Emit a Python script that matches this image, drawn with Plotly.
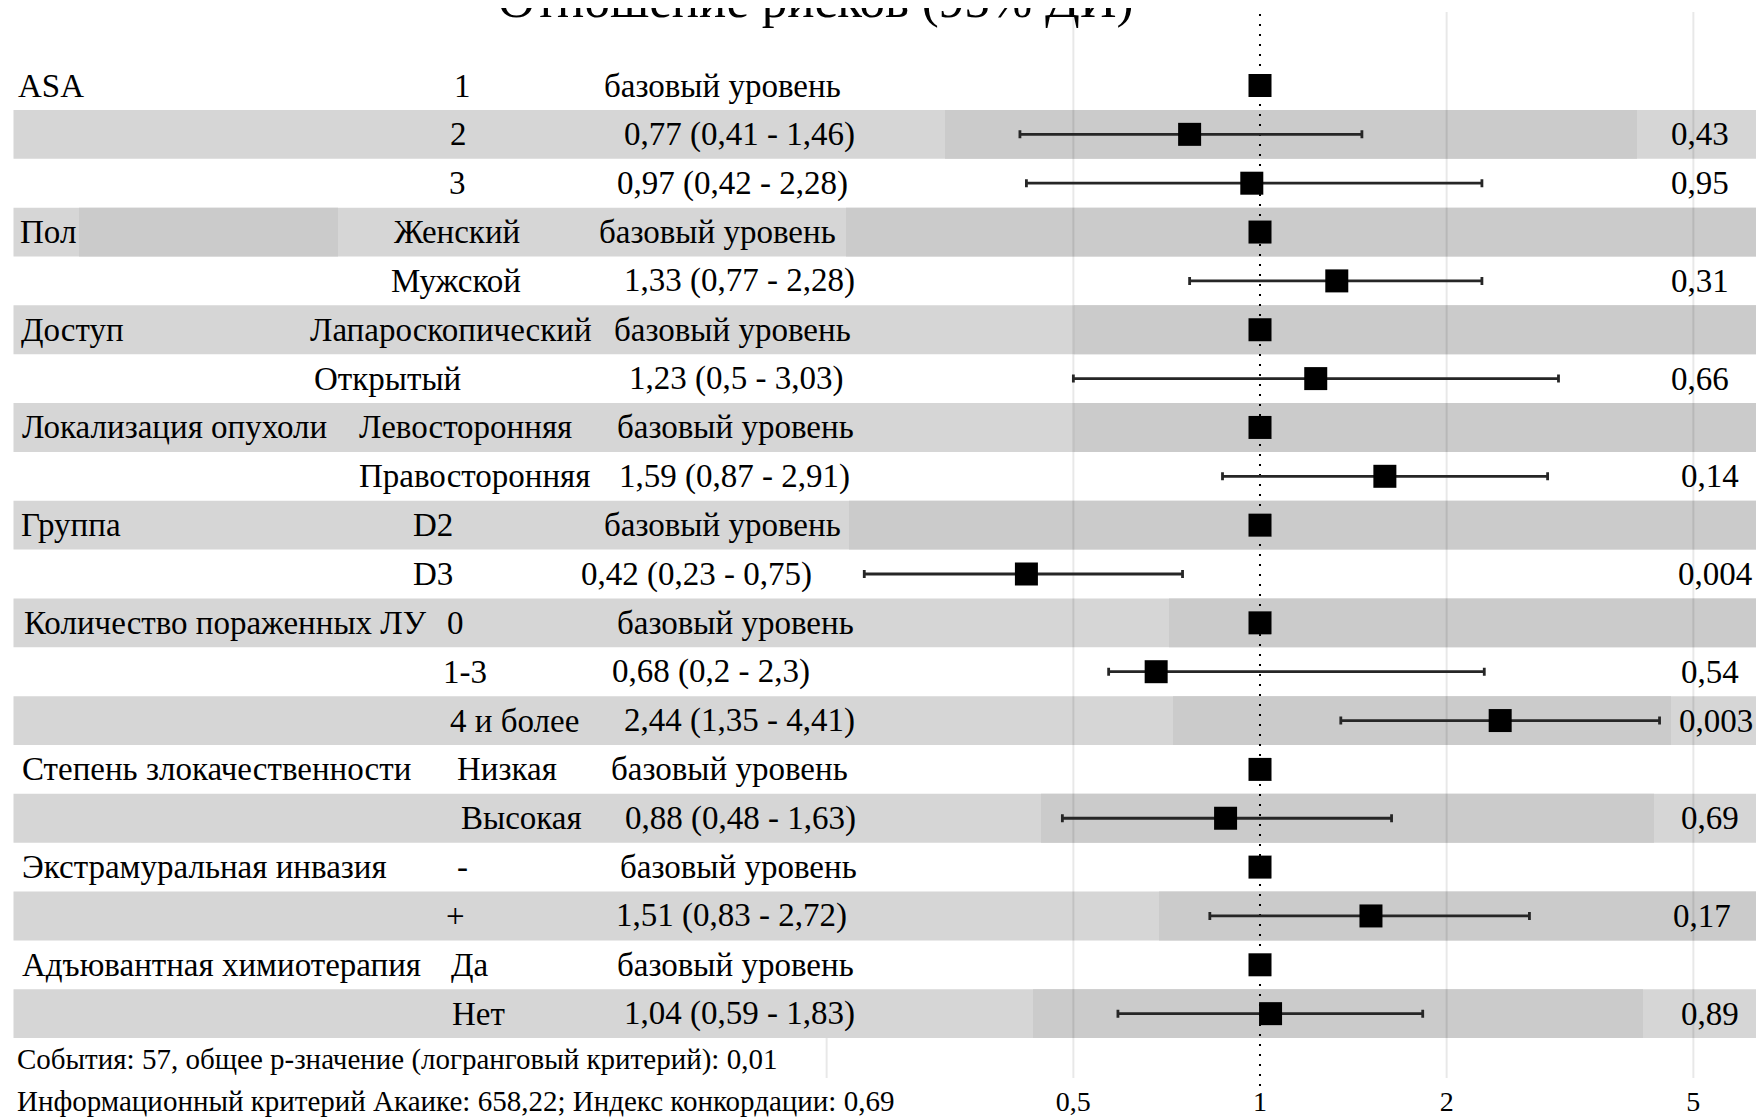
import numpy as np
import plotly.graph_objects as go

# ---------------- data ----------------
variables = ["ASA", "Пол", "Доступ", "Локализация опухоли", "Группа",
             "Количество пораженных ЛУ", "Степень злокачественности",
             "Экстрамуральная инвазия", "Адъювантная химиотерапия"]
variable_rows = [1, 4, 6, 8, 10, 12, 15, 17, 19]

levels = ["1", "2", "3", "Женский", "Мужской", "Лапароскопический", "Открытый",
          "Левосторонняя", "Правосторонняя", "D2", "D3", "0", "1-3", "4 и более",
          "Низкая", "Высокая", "-", "+", "Да", "Нет"]

hr = [1, 0.77, 0.97, 1, 1.33, 1, 1.23, 1, 1.59, 1, 0.42, 1, 0.68, 2.44,
      1, 0.88, 1, 1.51, 1, 1.04]
ci_low = [None, 0.41, 0.42, None, 0.77, None, 0.5, None, 0.87, None, 0.23,
          None, 0.2, 1.35, None, 0.48, None, 0.83, None, 0.59]
ci_high = [None, 1.46, 2.28, None, 2.28, None, 3.03, None, 2.91, None, 0.75,
           None, 2.3, 4.41, None, 1.63, None, 2.72, None, 1.83]
# lower whisker end as drawn in the picture (row "1-3" is drawn shorter than its label)
ci_low_drawn = [None, 0.41, 0.42, None, 0.77, None, 0.5, None, 0.87, None, 0.23,
                None, 0.57, 1.35, None, 0.48, None, 0.83, None, 0.59]
p_values = ["", "0,43", "0,95", "", "0,31", "", "0,66", "", "0,14", "", "0,004",
            "", "0,54", "0,003", "", "0,69", "", "0,17", "", "0,89"]

tick_vals = [0.5, 1, 2, 5]
tick_text = ["0,5", "1", "2", "5"]
grid_vals = [0.2, 0.5, 2, 5]

title_text = "Отношение рисков (95% ДИ)"
footer_lines = ["События: 57, общее p-значение (логранговый критерий): 0,01",
                "Информационный критерий Акаике: 658,22; Индекс конкордации: 0,69"]
ref_text = "базовый уровень"

# ---------------- layout helpers ----------------
# the page body adds an 8px margin, so the figure is placed at (8, 8) of the window
OFF = 8
W, H = 1764 - OFF, 1120 - OFF
ROW0, ROWSTEP = 85.5, 48.85          # window pixels of row 1 and row spacing
X1, XDEC = 1260, 620.0               # window pixel of HR = 1, pixels per decade
rows = list(range(1, len(levels) + 1))

def px2r(py):                 # window y pixel -> row coordinate
    return 1 + (py - ROW0) / ROWSTEP

def pxx(px):                  # window x pixel -> paper x
    return (px - OFF) / W

def pxy(py):                  # window y pixel -> paper y
    return 1 - (py - OFF) / H

def fmt(v):
    return ("%g" % v).replace(".", ",")

hr_labels = []
for h, lo, hi in zip(hr, ci_low, ci_high):
    if lo is None:
        hr_labels.append(ref_text)
    else:
        hr_labels.append(f"{fmt(h)} ({fmt(lo)} - {fmt(hi)})")

var_x = [16, 18, 19, 20, 19, 22, 20, 20, 20]
level_x = [462, 458, 457, 457, 456, 451, 387, 465, 474, 433, 433, 455, 465, 514,
           507, 521, 462, 455, 470, 478]
hr_x = [722, 739, 732, 717, 739, 732, 736, 735, 734, 722, 696, 735, 711, 739,
        729, 740, 738, 731, 735, 739]
p_x = [0, 1700, 1700, 0, 1700, 0, 1700, 0, 1710, 0, 1715, 0, 1710, 1716,
       0, 1710, 0, 1702, 0, 1710]

# dark segments of the alternating grey bands (window pixels)
dark_segments = {2: [(945, 1637)], 4: [(79, 338), (846, 1764)], 6: [(1074, 1764)],
                 8: [(1074, 1764)], 10: [(849, 1764)], 12: [(1169, 1764)],
                 14: [(1173, 1671)], 16: [(1041, 1654)], 18: [(1159, 1764)],
                 20: [(1033, 1643)]}

xr0 = np.log10(1) - (X1 - OFF) / XDEC
xr1 = (1764 - X1) / XDEC

FONT = "Liberation Serif"
BODY = 33

fig = go.Figure()

err_plus = [None if (hh is None) else hh - h for h, hh in zip(hr, ci_high)]
err_minus = [None if (ll is None) else h - ll for h, ll in zip(hr, ci_low_drawn)]

fig.add_trace(go.Scatter(
    x=hr, y=rows, mode="markers",
    marker=dict(symbol="square", size=23, color="black", line=dict(width=0)),
    error_x=dict(type="data", symmetric=False, array=err_plus,
                 arrayminus=err_minus, color="#262626", thickness=2.8, width=4),
    hoverinfo="skip", showlegend=False))

shapes = []
LIGHT, DARK = "#d6d6d6", "#cbcbcb"
for r in rows:
    if r % 2 == 0:
        shapes.append(dict(type="rect", xref="paper", yref="y", x0=pxx(13.5), x1=1.01,
                           y0=r - 0.5, y1=r + 0.5, fillcolor=LIGHT,
                           line=dict(width=0), layer="below"))
        for a, b in dark_segments.get(r, []):
            shapes.append(dict(type="rect", xref="paper", yref="y", x0=pxx(a),
                               x1=pxx(b + (10 if b >= 1764 else 0)),
                               y0=r - 0.5, y1=r + 0.5, fillcolor=DARK,
                               line=dict(width=0), layer="below"))
for g in grid_vals:
    top = 1038 if g == 0.2 else 12
    shapes.append(dict(type="line", xref="x", yref="paper", x0=g, x1=g,
                       y0=pxy(1078), y1=pxy(top),
                       line=dict(color="rgba(0,0,0,0.09)", width=2), layer="below"))
shapes.append(dict(type="line", xref="x", yref="paper", x0=1, x1=1,
                   y0=pxy(1086), y1=pxy(11),
                   line=dict(color="black", width=2, dash="2px,8px"), layer="below"))

ann = []
def text(x, r, s, size=BODY, anchor="center"):
    ann.append(dict(x=pxx(x), y=r, xref="paper", yref="y", text=s, showarrow=False,
                    xanchor=anchor, yanchor="middle",
                    font=dict(family=FONT, size=size, color="black")))

for v, r, x in zip(variables, variable_rows, var_x):
    text(x, r, v, anchor="left")
for lv, r, x in zip(levels, rows, level_x):
    text(x, r, lv)
for s, r, x in zip(hr_labels, rows, hr_x):
    text(x, r, s)
for s, r, x in zip(p_values, rows, p_x):
    if s:
        text(x, r, s)
for line, py in zip(footer_lines, [1059, 1101]):
    text(15, px2r(py), line, size=29, anchor="left")

ann.append(dict(x=pxx(816), y=pxy(30), xref="paper", yref="paper", text=title_text,
                showarrow=False, xanchor="center", yanchor="bottom",
                font=dict(family=FONT, size=51, color="black")))

fig.update_layout(
    width=W, height=H, margin=dict(l=0, r=0, t=0, b=0),
    paper_bgcolor="white", plot_bgcolor="white",
    xaxis=dict(type="log", range=[xr0, xr1], showgrid=False, zeroline=False,
               showline=False, tickvals=tick_vals, ticktext=tick_text,
               ticks="", ticklabelposition="inside",
               tickfont=dict(family=FONT, size=28, color="black")),
    yaxis=dict(range=[px2r(1120), px2r(OFF)], showgrid=False, zeroline=False,
               showticklabels=False, showline=False),
    shapes=shapes, annotations=ann,
)

fig.write_html("out.html")
